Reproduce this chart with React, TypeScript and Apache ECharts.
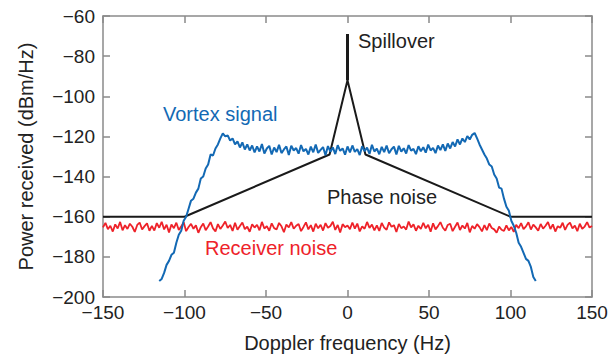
import React, { useEffect, useRef } from "react";
import * as echarts from "echarts";

// Doppler frequency grid (Hz)
const freqStep = 1.5;
const vortexStart = -115.5;
const noiseStart = -150;

const xTicks = { min: -150, max: 150, interval: 50 };
const yTicks = { min: -200, max: -60, interval: 20 };

// Vortex signal (dBm/Hz), from -115.5 Hz to 115.5 Hz every 1.5 Hz
const vortexSignal = [
  -192, -191, -188, -184, -182, -179, -178, -173, -169, -167,
  -162, -160, -156, -152, -151, -148, -146, -141, -140, -136,
  -134, -129, -129.5, -126, -124, -121, -118.5, -120, -119.5, -122,
  -121, -124, -122.5, -125.5, -123, -126.5, -124, -127,
  -124.5, -128, -125, -127.5, -123.8, -128.5, -126, -124.7, -129, -125.5,
  -127.8, -124.2, -128.3, -126.5, -125, -129.2, -124.6, -127, -125.8, -128.6,
  -124.3, -127.4, -126.2, -129, -125.1, -127.9, -124, -128.2, -126.7, -125.3,
  -129.4, -124.8, -127.6, -125.5, -128.8, -124.4, -127.2, -126, -129.1, -125,
  -128, -124.5, -127.7, -126.3, -129.3, -124.9, -127.3, -125.6, -128.7, -124.2,
  -127.5, -126.1, -128.9, -125.2, -127.8, -124.6, -128.4, -126.4, -125.1, -129,
  -124.7, -127.6, -125.9, -128.5, -124.3, -127.1, -126.2, -128.8, -124.9, -127.4,
  -125.4, -128.1, -124.1, -127, -125.7, -128.3, -124.5, -126.8, -124, -127.2,
  -123.5, -126, -122.8, -125, -121.5, -124, -121, -122.8, -119.8, -121.5,
  -119.2, -118.3,
  -121, -124, -126.5, -129, -131, -134, -135, -139, -141, -145.5,
  -146, -151, -155, -157, -162, -164.5, -168, -173, -175, -178,
  -181, -182, -185, -190, -192,
];

// Receiver noise (dBm/Hz), from -150 Hz to 150 Hz every 1.5 Hz
const receiverNoise = [
  -165.3, -163.1, -166.2, -164.5, -167.4, -163.8, -165.9, -162.6, -166.8, -164.2,
  -166.1, -163.5, -165.0, -167.6, -164.1, -162.9, -166.4, -164.7, -163.3, -167.0,
  -164.6, -166.9, -163.2, -165.5, -162.5, -166.3, -164.0, -167.8, -163.9, -165.7,
  -163.0, -166.6, -164.8, -162.8, -167.2, -165.1, -163.6, -166.0, -164.3, -168.0,
  -165.2, -163.4, -166.7, -164.9, -162.7, -165.8, -167.3, -163.7, -166.1, -164.4,
  -162.4, -165.6, -164.1, -167.1, -163.0, -166.5, -164.6, -162.9, -166.2, -165.0,
  -167.5, -163.8, -165.4, -164.0, -166.8, -162.6, -165.9, -164.7, -167.0, -163.3,
  -165.7, -166.4, -163.1, -164.8, -167.7, -163.9, -165.3, -162.7, -166.0, -164.5,
  -163.6, -167.2, -165.1, -162.8, -166.3, -164.2, -167.4, -163.5, -165.8, -164.0,
  -166.9, -163.2, -165.5, -164.6, -162.5, -166.6, -164.1, -167.9, -163.7, -165.2,
  -164.4, -166.2, -162.9, -165.9, -163.4, -167.3, -164.8, -166.0, -162.6, -165.6,
  -163.9, -166.8, -164.3, -167.1, -163.1, -165.4, -166.5, -162.8, -165.0, -164.2,
  -167.6, -163.6, -165.7, -164.9, -166.4, -162.4, -165.3, -163.8, -167.0, -164.5,
  -166.1, -163.0, -165.8, -164.0, -167.5, -163.3, -166.3, -164.7, -162.7, -165.5,
  -166.9, -164.1, -163.5, -167.2, -165.0, -162.9, -166.6, -164.4, -165.9, -163.1,
  -167.8, -164.6, -166.0, -163.7, -165.2, -167.3, -164.2, -166.7, -163.4, -165.6,
  -166.3, -168.0, -164.9, -166.5, -167.1, -164.3, -166.8, -165.1, -167.6, -164.0,
  -165.7, -163.2, -166.2, -164.8, -162.8, -166.4, -163.9, -165.3, -167.0, -163.6,
  -165.9, -164.5, -162.6, -166.1, -163.8, -167.4, -164.7, -165.5, -163.0, -166.6,
  -164.1, -162.9, -165.8, -164.4, -167.2, -163.5, -166.0, -164.9, -162.7, -165.4,
  -164.6,
];

// Phase noise model (Hz, dBm/Hz)
const phaseNoiseFreq = [-150, -100, -11, 0, 11, 100, 150];
const phaseNoiseLevel = [-160, -160, -129, -92, -129, -160, -160];

// Spillover spike (Hz, dBm/Hz)
const spilloverFreq = [0, 0];
const spilloverLevel = [-92, -69];

const labels = {
  vortex: "Vortex signal",
  receiver: "Receiver noise",
  phase: "Phase noise",
  spill: "Spillover",
  xName: "Doppler frequency (Hz)",
  yName: "Power received (dBm/Hz)",
};

const FONT = "'Liberation Sans', Arial, Helvetica, sans-serif";
const BLUE = "#1369b4";
const RED = "#ee2229";
const BLACK = "#1a1a1a";
const AXIS = "#8a8a8a";

export default function App() {
  const ref = useRef<HTMLDivElement>(null);
  useEffect(() => {
    document.body.style.margin = "0";
    if (!ref.current) return;
    const chart = echarts.init(ref.current, undefined, { renderer: "svg" });
    const vortexData = vortexSignal.map((v, i) => [vortexStart + i * freqStep, v]);
    const noiseData = receiverNoise.map((v, i) => [noiseStart + i * freqStep, v]);
    const phaseData = phaseNoiseFreq.map((f, i) => [f, phaseNoiseLevel[i]]);
    const spillData = spilloverFreq.map((f, i) => [f, spilloverLevel[i]]);

    const axisLineStyle = { color: AXIS, width: 1.5 };
    const labelStyle = { color: "#222", fontSize: 19, fontFamily: FONT };
    const minusFmt = (v: number) => (v < 0 ? "\u2212" + Math.abs(v) : String(v));

    chart.setOption({
      animation: false,
      backgroundColor: "#fff",
      grid: { left: 103, right: 24, top: 16, bottom: 59, containLabel: false },
      xAxis: [
        {
          type: "value",
          ...xTicks,
          name: labels.xName,
          nameLocation: "middle",
          nameGap: 36,
          nameTextStyle: { color: "#222", fontSize: 20, fontFamily: FONT },
          axisLine: { show: true, onZero: false, lineStyle: axisLineStyle },
          axisTick: { show: true, inside: true, length: 7, lineStyle: axisLineStyle },
          axisLabel: { ...labelStyle, margin: 6, formatter: minusFmt },
          splitLine: { show: false },
        },
        {
          type: "value",
          ...xTicks,
          position: "top",
          axisLine: { show: true, onZero: false, lineStyle: axisLineStyle },
          axisTick: { show: true, inside: true, length: 7, lineStyle: axisLineStyle },
          axisLabel: { show: false },
          splitLine: { show: false },
        },
      ],
      yAxis: [
        {
          type: "value",
          ...yTicks,
          name: labels.yName,
          nameLocation: "middle",
          nameGap: 67,
          nameTextStyle: { color: "#222", fontSize: 20, fontFamily: FONT },
          axisLine: { show: true, onZero: false, lineStyle: axisLineStyle },
          axisTick: { show: true, inside: true, length: 7, lineStyle: axisLineStyle },
          axisLabel: { ...labelStyle, margin: 8, formatter: minusFmt },
          splitLine: { show: false },
        },
        {
          type: "value",
          ...yTicks,
          position: "right",
          axisLine: { show: true, onZero: false, lineStyle: axisLineStyle },
          axisTick: { show: true, inside: true, length: 7, lineStyle: axisLineStyle },
          axisLabel: { show: false },
          splitLine: { show: false },
        },
      ],
      series: [
        {
          name: labels.receiver,
          type: "line",
          data: noiseData,
          showSymbol: false,
          lineStyle: { color: RED, width: 1.8 },
          z: 2,
        },
        {
          name: labels.phase,
          type: "line",
          data: phaseData,
          showSymbol: false,
          lineStyle: { color: BLACK, width: 2 },
          z: 3,
        },
        {
          name: labels.spill,
          type: "line",
          data: spillData,
          showSymbol: false,
          lineStyle: { color: BLACK, width: 3 },
          z: 3,
        },
        {
          name: labels.vortex,
          type: "line",
          data: vortexData,
          showSymbol: false,
          lineStyle: { color: BLUE, width: 2 },
          z: 4,
        },
      ],
      graphic: [
        {
          type: "text",
          x: 358,
          y: 41,
          style: { text: labels.spill, fill: "#222", fontSize: 20, fontFamily: FONT, verticalAlign: "middle" },
        },
        {
          type: "text",
          x: 163,
          y: 114,
          style: { text: labels.vortex, fill: BLUE, fontSize: 20, fontFamily: FONT, verticalAlign: "middle" },
        },
        {
          type: "text",
          x: 327,
          y: 197,
          style: { text: labels.phase, fill: "#222", fontSize: 20, fontFamily: FONT, verticalAlign: "middle" },
        },
        {
          type: "text",
          x: 205,
          y: 248,
          style: { text: labels.receiver, fill: RED, fontSize: 20, fontFamily: FONT, verticalAlign: "middle" },
        },
      ],
    });
    return () => chart.dispose();
  }, []);
  return <div ref={ref} style={{ width: 616, height: 358 }} />;
}
